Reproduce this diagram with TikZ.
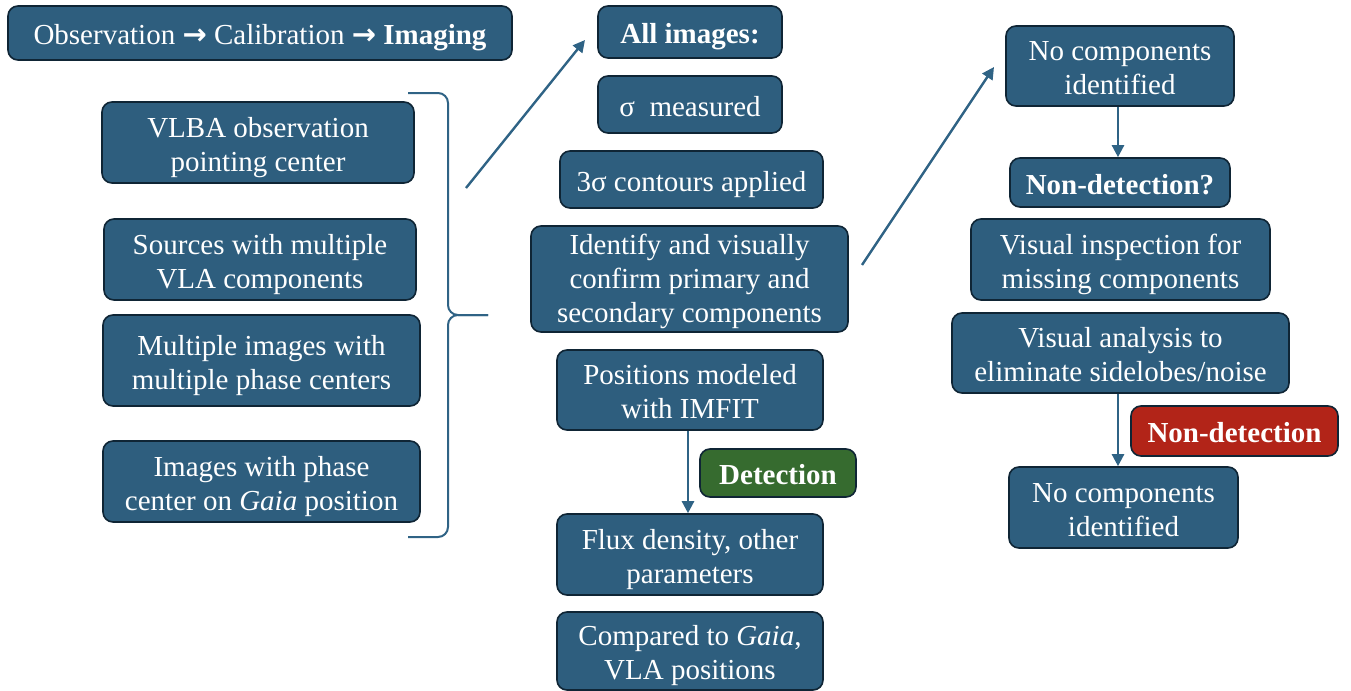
\documentclass[tikz,border=0pt]{standalone}
\usepackage{fontspec}
\setmainfont{Liberation Serif}
\newfontfamily\arrowfont{DejaVu Sans}
\usepackage{tikz}
\usetikzlibrary{positioning,arrows.meta,calc}
\usepackage{xcolor}

\definecolor{boxblue}{HTML}{2E5E7E}
\definecolor{boxedge}{HTML}{0F2535}
\definecolor{detgreen}{HTML}{366B2F}
\definecolor{nondetred}{HTML}{B22418}
\definecolor{linkblue}{HTML}{2F6385}

\newcommand{\pipearrow}{{\arrowfont\bfseries →}}

\tikzset{
  box/.style={draw=boxedge, line width=0.8pt, fill=boxblue, rounded corners=5pt,
    text=white, align=center, inner sep=0pt,
    font=\fontsize{14.5}{17}\selectfont,
    text height=15pt, text depth=3.2pt},
  twolines/.style={text height=32pt},
  threelines/.style={text height=47pt},
  greenbox/.style={box, fill=detgreen, font=\fontsize{14.5}{17}\selectfont\bfseries},
  redbox/.style={box, fill=nondetred, font=\fontsize{14.5}{17}\selectfont\bfseries},
  link/.style={draw=linkblue, line width=1.2pt, -{Triangle[length=6pt,width=6pt]}}
}

\begin{document}
\begin{tikzpicture}[x=0.5pt,y=-0.5pt]
  \useasboundingbox (0,0) rectangle (1351,691);

  % pipeline title
  \node[box, minimum width=252pt, minimum height=27pt] (obs) at (260,33)
    {Observation \pipearrow{} Calibration \pipearrow{} \textbf{Imaging}};

  % left column
  \node[box, twolines, minimum width=156pt, minimum height=40.5pt] (vlba) at (258,142.5)
    {VLBA observation\\pointing center};
  \node[box, twolines, minimum width=156pt, minimum height=40.5pt] (srcs) at (260,259.5)
    {Sources with multiple\\VLA components};
  \node[box, twolines, minimum width=158.5pt, minimum height=45.5pt] (multi) at (261.5,360.5)
    {Multiple images with\\multiple phase centers};
  \node[box, twolines, minimum width=158.5pt, minimum height=40.5pt] (gaiaimg) at (261.5,481.5)
    {Images with phase\\center on \textit{Gaia} position};

  % brace
  \draw[linkblue, line width=1pt, rounded corners=5pt]
    (408,93) -- (448,93) -- (448,315) -- (488,315);
  \draw[linkblue, line width=1pt, rounded corners=5pt]
    (488,315) -- (448,315) -- (448,537) -- (408,537);

  % middle column
  \node[box, minimum width=92pt, minimum height=26pt, font=\fontsize{14.5}{17}\selectfont\bfseries]
    (allimg) at (690,32) {All images:};
  \node[box, minimum width=92pt, minimum height=28.5pt] (sigma) at (690,104.5)
    {σ\ \ measured};
  \node[box, minimum width=131.5pt, minimum height=28.5pt] (contours) at (691.5,179.5)
    {3σ contours applied};
  \node[box, threelines, minimum width=158.5pt, minimum height=53pt] (identify) at (689.5,279)
    {Identify and visually\\confirm primary and\\secondary components};
  \node[box, twolines, minimum width=133pt, minimum height=40pt] (imfit) at (690,390)
    {Positions modeled\\with IMFIT};
  \node[greenbox, minimum width=78pt, minimum height=24pt] (detect) at (778,473)
    {Detection};
  \node[box, twolines, minimum width=133pt, minimum height=40.5pt] (flux) at (690,554.5)
    {Flux density, other\\parameters};
  \node[box, twolines, minimum width=133pt, minimum height=39pt] (compare) at (690,651)
    {Compared to \textit{Gaia},\\VLA positions};

  % right column
  \node[box, twolines, minimum width=114pt, minimum height=40pt] (nocompA) at (1120,66)
    {No components\\identified};
  \node[box, minimum width=110pt, minimum height=24.5pt, font=\fontsize{14.5}{17}\selectfont\bfseries]
    (nondetq) at (1120,182.5) {Non-detection?};
  \node[box, twolines, minimum width=149.5pt, minimum height=40.5pt] (inspect) at (1120.5,259.5)
    {Visual inspection for\\missing components};
  \node[box, twolines, minimum width=168.5pt, minimum height=40pt] (analysis) at (1120.5,353)
    {Visual analysis to\\eliminate sidelobes/noise};
  \node[redbox, minimum width=103.5pt, minimum height=25pt] (nondet) at (1234.5,431)
    {Non-detection};
  \node[box, twolines, minimum width=114.5pt, minimum height=40.5pt] (nocompB) at (1123.5,507.5)
    {No components\\identified};

  % connectors
  \coordinate (braceout) at (466,188);
  \coordinate (allin) at (585,40);
  \coordinate (idout) at (862,265);
  \coordinate (nocompin) at (994,67);
  \draw[link] (braceout) -- (allin);
  \draw[link] (idout) -- (nocompin);
  \draw[link] (imfit.south -| 688,0) -- (flux.north -| 688,0);
  \draw[link] (nocompA.south -| 1118,0) -- (nondetq.north -| 1118,0);
  \draw[link] (analysis.south -| 1118,0) -- (nocompB.north -| 1118,0);
\end{tikzpicture}
\end{document}
